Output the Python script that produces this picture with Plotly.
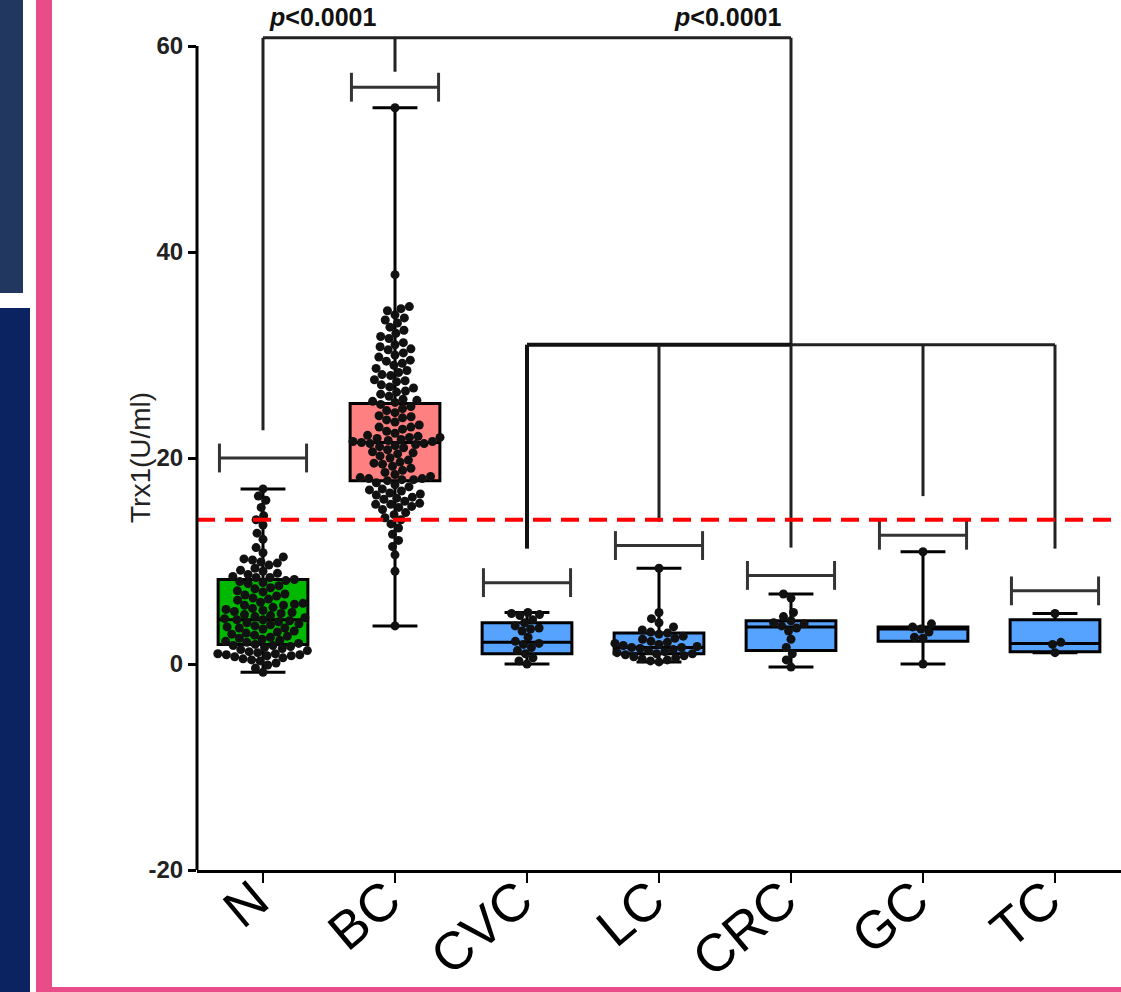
import numpy as np
import plotly.graph_objects as go

# ---------------- data ----------------
categories = ["N", "BC", "CVC", "LC", "CRC", "GC", "TC"]

n_vals = [17.0, 16.3, 15.9, 15.2, 14.4, 14.0, 13.5, 12.7, 12.1, 11.3, 10.8,
          10.4, 10.2, 10.1, 9.9, 9.8, 9.6,
          9.3, 9.1, 9.0, 8.8, 8.7,
          8.5, 8.4, 8.4, 8.2, 8.1, 8.0, 7.9, 7.8,
          7.6, 7.4, 7.3, 7.1, 7.0, 6.8,
          6.7, 6.6, 6.4, 6.3, 6.2, 6.0, 5.9,
          5.8, 5.7, 5.7, 5.5, 5.4, 5.3, 5.2, 5.1, 5.0, 4.9,
          4.8, 4.7, 4.6, 4.5, 4.4, 4.3, 4.3, 4.2, 4.1, 4.0,
          3.9, 3.8, 3.7, 3.6, 3.5, 3.5, 3.4, 3.2, 3.1, 3.0,
          2.9, 2.8, 2.7, 2.6, 2.5, 2.4, 2.3, 2.2, 2.1, 2.0,
          1.9, 1.8, 1.8, 1.7, 1.6, 1.5, 1.4, 1.3, 1.2, 1.1,
          1.0, 1.0, 0.9, 0.9, 0.8, 0.8, 0.7, 0.6, 0.5, 0.4,
          0.3, 0.1, -0.1, -0.4, -0.8]

bc_vals = [54.0, 37.8, 34.7, 34.5, 34.3, 33.9, 33.6, 33.4, 33.1, 32.7, 32.4,
           32.1, 31.8, 31.6, 31.2, 31.0, 30.8, 30.6,
           30.5, 30.2, 30.0, 29.8, 29.5, 29.4, 29.2, 29.0, 28.7, 28.5, 28.3,
           28.1, 28.0, 27.6, 27.5,
           27.4, 27.1, 26.9, 26.8, 26.5, 26.4, 26.2, 26.0, 25.7, 25.6, 25.5,
           25.4, 25.2,
           25.0, 24.8, 24.6, 24.4, 24.1, 24.0, 23.9, 23.7, 23.5, 23.2, 23.0,
           23.0, 22.8, 22.6, 22.4, 22.2, 22.1, 22.0, 22.0, 21.9, 21.8, 21.7,
           21.6, 21.6, 21.5, 21.4, 21.4, 21.3, 21.2, 21.1, 21.0, 20.8, 20.6,
           20.5, 20.4, 20.2, 20.0, 19.8, 19.6, 19.5, 19.4, 19.2, 19.0, 18.8,
           18.6, 18.4, 18.2, 18.1, 18.0, 18.0, 17.9, 17.9, 17.8, 17.6, 17.4,
           17.2, 17.0, 16.9, 16.8, 16.6, 16.5, 16.4, 16.2, 16.1, 16.0, 15.8,
           15.6, 15.5, 15.5, 15.3,
           15.2, 15.0, 14.7, 14.5, 14.2, 14.0, 13.6, 13.2, 12.6, 12.0, 11.4,
           10.6, 9.0, 3.7]

cvc_vals = [5.0, 4.9, 4.8, 4.7, 4.3, 4.0, 3.7, 3.5, 3.4, 3.2, 2.6, 2.2, 2.0,
            1.9, 1.6, 1.3, 1.0, 0.6, 0.3, 0.0]

lc_vals = [9.3, 5.0, 4.4, 4.0, 3.6, 3.3, 3.1, 3.0, 2.9, 2.7, 2.5, 2.4, 2.2,
           2.1, 2.0, 1.9, 1.8, 1.7, 1.6, 1.6, 1.5, 1.4, 1.3, 1.2, 1.1, 1.0,
           1.0, 0.9, 0.8, 0.7, 0.6, 0.5, 0.4, 0.3, 0.2]

crc_vals = [6.8, 6.4, 5.0, 4.6, 4.2, 4.0, 3.9, 3.7, 3.5, 3.2, 2.4, 1.6, 1.0,
            0.4, -0.3]

gc_vals = [10.9, 3.9, 3.6, 3.4, 3.1, 2.6, 2.5, 0.0]

tc_vals = [4.9, 2.1, 1.9, 1.1]

group_vals = [n_vals, bc_vals, cvc_vals, lc_vals, crc_vals, gc_vals, tc_vals]

box_q1 = [1.9, 17.8, 1.0, 1.0, 1.3, 2.2, 1.2]
box_median = [4.3, 21.5, 2.1, 1.6, 3.6, 3.4, 2.0]
box_q3 = [8.2, 25.3, 4.0, 3.0, 4.2, 3.6, 4.3]
box_min = [-0.8, 3.7, 0.0, 0.2, -0.3, 0.0, 1.1]
box_max = [17.0, 54.0, 5.0, 9.3, 6.8, 10.9, 4.9]
box_colors = ["#00B800", "#FF8080", "#55A2FF", "#55A2FF", "#55A2FF",
              "#55A2FF", "#55A2FF"]

# range bars drawn above each group (y value)
range_bar_y = [20.0, 56.0, 7.9, 11.5, 8.6, 12.5, 7.1]

cutoff_value = 14.0

# significance bracket 1 (N vs BC vs cancers)
sig1_y = 60.8
sig1_drops = {0: 22.7, 1: 57.5, 4: 31.0}
# significance bracket 2 (cancer groups)
sig2_y = 31.0
sig2_drops = {2: 11.2, 3: 13.8, 4: 11.3, 5: 16.3, 6: 11.2}
p_labels = ["<b><i>p</i>&lt;0.0001</b>", "<b><i>p</i>&lt;0.0001</b>"]

# ---------------- geometry ----------------
W, H = 1121, 992
L, R, T, B = 197, 0, 20, 122
plot_w = W - L - R
plot_h = H - T - B
y_lo = -20.0
px_per_unit_y = (870 - 46) / 80.0
y_hi = y_lo + plot_h / px_per_unit_y
px_per_unit_x = plot_w / 7.0


def px2paper_x(px):
    return (px - L) / plot_w


def py2paper_y(py):
    return (H - B - py) / plot_h


def swarm(vals, d=8.6):
    vals = np.asarray(vals, dtype=float)
    order = np.argsort(vals, kind="stable")
    placed = []
    out = np.zeros(len(vals))
    for idx in order:
        y = vals[idx] * px_per_unit_y
        intervals = []
        for (px, py) in placed:
            dy = abs(py - y)
            if dy < d:
                w = np.sqrt(d * d - dy * dy)
                intervals.append((px - w, px + w))
        cands = [0.0]
        for a, b in intervals:
            cands += [a, b]
        cands.sort(key=lambda c: (abs(c), c))
        chosen = 0.0
        for c in cands:
            if all(not (a + 1e-6 < c < b - 1e-6) for a, b in intervals):
                chosen = c
                break
        placed.append((chosen, y))
        out[idx] = chosen / px_per_unit_x
    return out


fig = go.Figure()

for i, cat in enumerate(categories):
    fig.add_trace(go.Box(
        x=[i], q1=[box_q1[i]], median=[box_median[i]], q3=[box_q3[i]],
        lowerfence=[box_min[i]], upperfence=[box_max[i]],
        width=0.68, whiskerwidth=0.5, fillcolor=box_colors[i],
        line=dict(color="black", width=3), boxpoints=False,
        name=cat, showlegend=False, hoverinfo="skip"))

for i, vals in enumerate(group_vals):
    offs = swarm(vals)
    fig.add_trace(go.Scatter(
        x=i + offs, y=vals, mode="markers",
        marker=dict(color="#111111", size=9, line=dict(width=0)),
        showlegend=False, hoverinfo="skip", cliponaxis=False))

shapes = []
line_col = "#222222"
# range bars
for i, yb in enumerate(range_bar_y):
    shapes.append(dict(type="line", xref="x", yref="y", x0=i - 0.33, x1=i + 0.33,
                       y0=yb, y1=yb, line=dict(color="#333333", width=3)))
    for xe in (i - 0.33, i + 0.33):
        shapes.append(dict(type="line", xref="x", yref="y", x0=xe, x1=xe,
                           y0=yb - 1.4, y1=yb + 1.4,
                           line=dict(color="#333333", width=3)))
# significance bracket 1
shapes.append(dict(type="line", xref="x", yref="y", x0=0, x1=4, y0=sig1_y, y1=sig1_y,
                   line=dict(color=line_col, width=3)))
for xk, yk in sig1_drops.items():
    shapes.append(dict(type="line", xref="x", yref="y", x0=xk, x1=xk, y0=sig1_y, y1=yk,
                       line=dict(color=line_col, width=3)))
# significance bracket 2
shapes.append(dict(type="line", xref="x", yref="y", x0=2, x1=4, y0=sig2_y, y1=sig2_y,
                   line=dict(color="#111111", width=4)))
shapes.append(dict(type="line", xref="x", yref="y", x0=4, x1=6, y0=sig2_y, y1=sig2_y,
                   line=dict(color=line_col, width=3)))
for xk, yk in sig2_drops.items():
    shapes.append(dict(type="line", xref="x", yref="y", x0=xk, x1=xk, y0=sig2_y, y1=yk,
                       line=dict(color="#111111" if xk == 2 else line_col,
                                 width=4 if xk == 2 else 3)))
# cutoff line
shapes.append(dict(type="line", xref="paper", yref="y", x0=0, x1=1,
                   y0=cutoff_value, y1=cutoff_value,
                   line=dict(color="#FF0000", width=4, dash="18px,10px")))
# y axis line (ends at 60)
shapes.append(dict(type="line", xref="paper", yref="y", x0=0, x1=0,
                   y0=y_lo - 0.2, y1=60, line=dict(color="black", width=3)))

# decorative page elements
shapes.append(dict(type="rect", xref="paper", yref="paper",
                   x0=px2paper_x(0), x1=px2paper_x(23), y0=py2paper_y(293), y1=py2paper_y(0),
                   fillcolor="#22375F", line=dict(width=0), layer="below"))
shapes.append(dict(type="rect", xref="paper", yref="paper",
                   x0=px2paper_x(0), x1=px2paper_x(30), y0=py2paper_y(992), y1=py2paper_y(308),
                   fillcolor="#0B2461", line=dict(width=0), layer="below"))
shapes.append(dict(type="rect", xref="paper", yref="paper",
                   x0=px2paper_x(36), x1=px2paper_x(52), y0=py2paper_y(992), y1=py2paper_y(0),
                   fillcolor="#E84C89", line=dict(width=0), layer="below"))
shapes.append(dict(type="rect", xref="paper", yref="paper",
                   x0=px2paper_x(52), x1=px2paper_x(1121), y0=py2paper_y(992), y1=py2paper_y(987),
                   fillcolor="#E84C89", line=dict(width=0), layer="below"))

annotations = [
    dict(text=p_labels[0], xref="paper", yref="paper", x=px2paper_x(322), y=py2paper_y(17),
         xanchor="center", yanchor="middle", showarrow=False,
         font=dict(size=25, color="#111111", family="Liberation Sans, Arial")),
    dict(text=p_labels[1], xref="paper", yref="paper", x=px2paper_x(727), y=py2paper_y(17),
         xanchor="center", yanchor="middle", showarrow=False,
         font=dict(size=25, color="#111111", family="Liberation Sans, Arial")),
    dict(text="Trx1(U/ml)", xref="paper", yref="paper", x=px2paper_x(140), y=py2paper_y(458),
         xanchor="center", yanchor="middle", textangle=-90, showarrow=False,
         font=dict(size=28, color="#222222", family="Liberation Sans, Arial")),
]

fig.update_layout(
    width=W, height=H,
    margin=dict(l=L, r=R, t=T, b=B),
    paper_bgcolor="white", plot_bgcolor="white",
    shapes=shapes, annotations=annotations,
    font=dict(family="Liberation Sans, Arial", color="black"),
    xaxis=dict(range=[-0.5, 6.5], tickmode="array", tickvals=list(range(7)),
               ticktext=categories, tickangle=-40,
               tickfont=dict(size=53, color="black", family="Liberation Sans, Arial"),
               ticklabelstandoff=-35, ticklabelshift=-8,
               showline=True, linecolor="black", linewidth=3,
               ticks="outside", ticklen=10, tickwidth=2, tickcolor="black",
               showgrid=False, zeroline=False, automargin=False, fixedrange=True),
    yaxis=dict(range=[y_lo, y_hi], tickmode="array", tickvals=[-20, 0, 20, 40, 60],
               ticktext=["-20", "0", "20", "40", "60"],
               tickfont=dict(size=24, color="#222222", family="Liberation Sans, Arial",
                             weight="bold"),
               showline=False, ticks="outside", ticklen=8, tickwidth=3, tickcolor="black",
               showgrid=False, zeroline=False, automargin=False, fixedrange=True),
    boxgap=0.3,
)

fig.write_html("out.html", config={"displayModeBar": False},
               post_script="document.body.style.margin='0px';")
